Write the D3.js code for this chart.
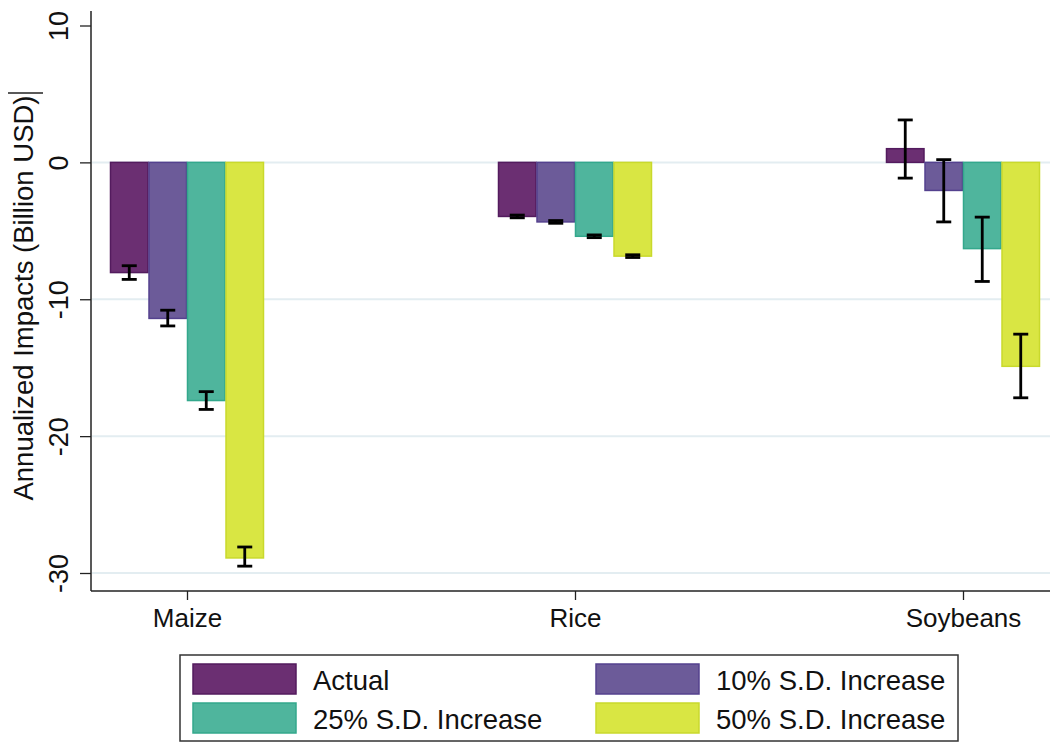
<!DOCTYPE html>
<html><head><meta charset="utf-8">
<script src="https://cdn.jsdelivr.net/npm/d3@7"></script>
<style>body{margin:0;background:#fff}svg{display:block}text{font-family:"Liberation Sans",Arial,sans-serif;fill:#111}</style>
</head><body><svg id="c" width="1057" height="744"></svg>
<script>
const categories = ["Maize", "Rice", "Soybeans"];
const seriesNames = ["Actual", "10% S.D. Increase", "25% S.D. Increase", "50% S.D. Increase"];
const actual   = [-8.05, -3.95, 1.0];
const sd10     = [-11.4, -4.35, -2.05];
const sd25     = [-17.4, -5.4, -6.3];
const sd50     = [-28.9, -6.85, -14.9];
const ciLow  = [[-8.55,-4.05,-1.15],[-11.95,-4.45,-4.35],[-18.05,-5.5,-8.7],[-29.5,-6.95,-17.2]];
const ciHigh = [[-7.55,-3.85,3.1],[-10.8,-4.25,0.2],[-16.75,-5.3,-4.0],[-28.1,-6.75,-12.55]];
const yTicks = [10, 0, -10, -20, -30];
const fills   = ["#6b2f72", "#6c5b99", "#4fb59d", "#d9e643"];
const strokes = ["#531b5e", "#54418e", "#33a88c", "#c9d92c"];
const values = [actual, sd10, sd25, sd50];

const svg = d3.select("#c");
const pLeft = 91, pRight = 1050, pTop = 11, pBottom = 591;
const y = d3.scaleLinear().domain([-30, 10]).range([573, 25.5]);
const x = d3.scalePoint().domain(categories).range([187, 963]);
const xs = d3.scaleBand().domain(seriesNames).range([-77, 77]).padding(0);

// gridlines
svg.append("g").selectAll("line").data(yTicks.filter(d => d !== 10)).join("line")
  .attr("x1", pLeft + 1).attr("x2", pRight).attr("y1", d => y(d)).attr("y2", d => y(d))
  .attr("stroke", "#e3edf1").attr("stroke-width", 2);

// bars
const g = svg.append("g");
seriesNames.forEach((s, si) => {
  categories.forEach((c, ci) => {
    const v = values[si][ci];
    g.append("rect")
      .attr("x", x(c) + xs(s) + 0.5).attr("width", xs.bandwidth() - 1)
      .attr("y", Math.min(y(v), y(0))).attr("height", Math.abs(y(v) - y(0)))
      .attr("fill", fills[si]).attr("stroke", strokes[si]).attr("stroke-width", 1.5);
  });
});
// error bars
seriesNames.forEach((s, si) => {
  categories.forEach((c, ci) => {
    const cx = x(c) + xs(s) + xs.bandwidth() / 2;
    const lo = y(ciLow[si][ci]), hi = y(ciHigh[si][ci]);
    g.append("line").attr("x1", cx).attr("x2", cx).attr("y1", lo).attr("y2", hi).attr("stroke", "#000").attr("stroke-width", 2.8);
    [lo, hi].forEach(yy => g.append("line").attr("x1", cx - 7.5).attr("x2", cx + 7.5).attr("y1", yy).attr("y2", yy).attr("stroke", "#000").attr("stroke-width", 2.8));
  });
});

// y axis
const ya = svg.append("g").attr("transform", `translate(${pLeft},0)`)
  .call(d3.axisLeft(y).tickValues(yTicks).tickSize(11).tickFormat(d => String(d)));
ya.select(".domain").remove();
ya.append("line").attr("x1", 0).attr("x2", 0).attr("y1", pTop).attr("y2", pBottom).attr("stroke", "#222").attr("stroke-width", 1.5);
ya.selectAll(".tick line").attr("stroke", "#222").attr("stroke-width", 1.3);
ya.selectAll(".tick text").attr("font-size", 27).attr("fill", "#111")
  .attr("text-anchor", "middle").attr("x", 0).attr("y", 0).attr("dy", 0)
  .attr("transform", "translate(-23,0) rotate(-90)");

// y title
const yt = svg.append("text").attr("transform", "translate(33,298) rotate(-90)").attr("text-anchor", "middle")
  .attr("font-size", 27.5).text("Annualized Impacts (Billion USD)");
svg.append("line").attr("x1", 8).attr("x2", 43).attr("y1", 93).attr("y2", 93).attr("stroke", "#222").attr("stroke-width", 1.3);

// x axis
const xa = svg.append("g").attr("transform", `translate(0,${pBottom})`)
  .call(d3.axisBottom(x).tickSize(9));
xa.select(".domain").remove();
xa.append("line").attr("x1", pLeft).attr("x2", pRight).attr("y1", 0).attr("y2", 0).attr("stroke", "#222").attr("stroke-width", 1.5);
xa.selectAll(".tick line").attr("stroke", "#222").attr("stroke-width", 1.3);
xa.selectAll(".tick text").attr("font-size", 26).attr("fill", "#111").attr("y", 36).attr("dy", 0);

// legend
const lg = svg.append("g");
lg.append("rect").attr("x", 180).attr("y", 655).attr("width", 778).attr("height", 86)
  .attr("fill", "#fff").attr("stroke", "#333").attr("stroke-width", 1.5);
const lx = [193, 596], ly = [664, 703];
seriesNames.forEach((s, i) => {
  const cx = lx[i % 2], cy = ly[Math.floor(i / 2)];
  lg.append("rect").attr("x", cx).attr("y", cy).attr("width", 103).attr("height", 30)
    .attr("fill", fills[i]).attr("stroke", strokes[i]).attr("stroke-width", 1.5);
  lg.append("text").attr("x", cx + 120).attr("y", cy + 26)
    .attr("font-size", 27.5).text(s);
});
</script></body></html>
